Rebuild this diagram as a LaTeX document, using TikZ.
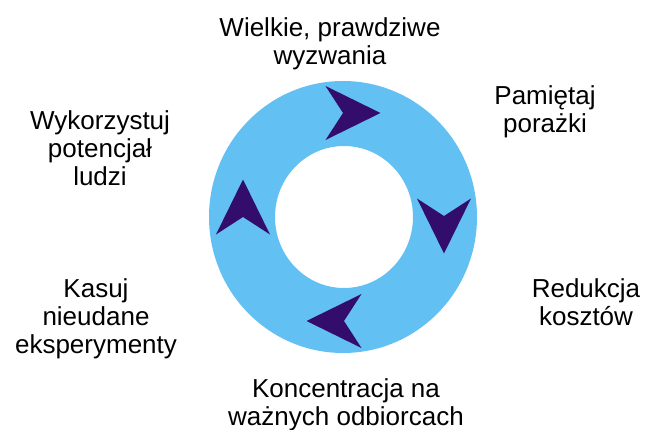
\documentclass[tikz,border=0pt]{standalone}
\usepackage{fontspec}
\setmainfont{Liberation Sans}
\definecolor{ringblue}{RGB}{99,192,243}
\definecolor{arrowpurple}{RGB}{51,13,107}
\newcommand\cyclearrow[2]{\fill[arrowpurple, shift={#1}, rotate=#2] (27.5,0) -- (-27.5,-27) -- (-10,0) -- (-27.5,27) -- cycle;}
\begin{document}
\begin{tikzpicture}[x=1pt, y=-1pt, every node/.style={font=\fontsize{26}{28}\selectfont, align=center, inner sep=0pt, anchor=north}]
\useasboundingbox (0,0) rectangle (645,430);
% Ring
\fill[ringblue, even odd rule] (343,217) ellipse [x radius=134, y radius=136] (344,217) ellipse [x radius=69, y radius=71];
% Arrows
\cyclearrow{(353,113)}{0}
\cyclearrow{(444,226)}{-90}
\cyclearrow{(334,321)}{180}
\cyclearrow{(243,207)}{90}
% Labels
\node (wyzwania) at (330,17) {Wielkie, prawdziwe\\wyzwania};
\node (porazki) at (545,85) {Pamiętaj\\porażki};
\node (koszty) at (586,278) {Redukcja\\kosztów};
\node (odbiorcy) at (346,378) {Koncentracja na\\ważnych odbiorcach};
\node (eksperymenty) at (96,278) {Kasuj\\nieudane\\eksperymenty};
\node (potencjal) at (100,110) {Wykorzystuj\\potencjał\\ludzi};
\end{tikzpicture}
\end{document}
